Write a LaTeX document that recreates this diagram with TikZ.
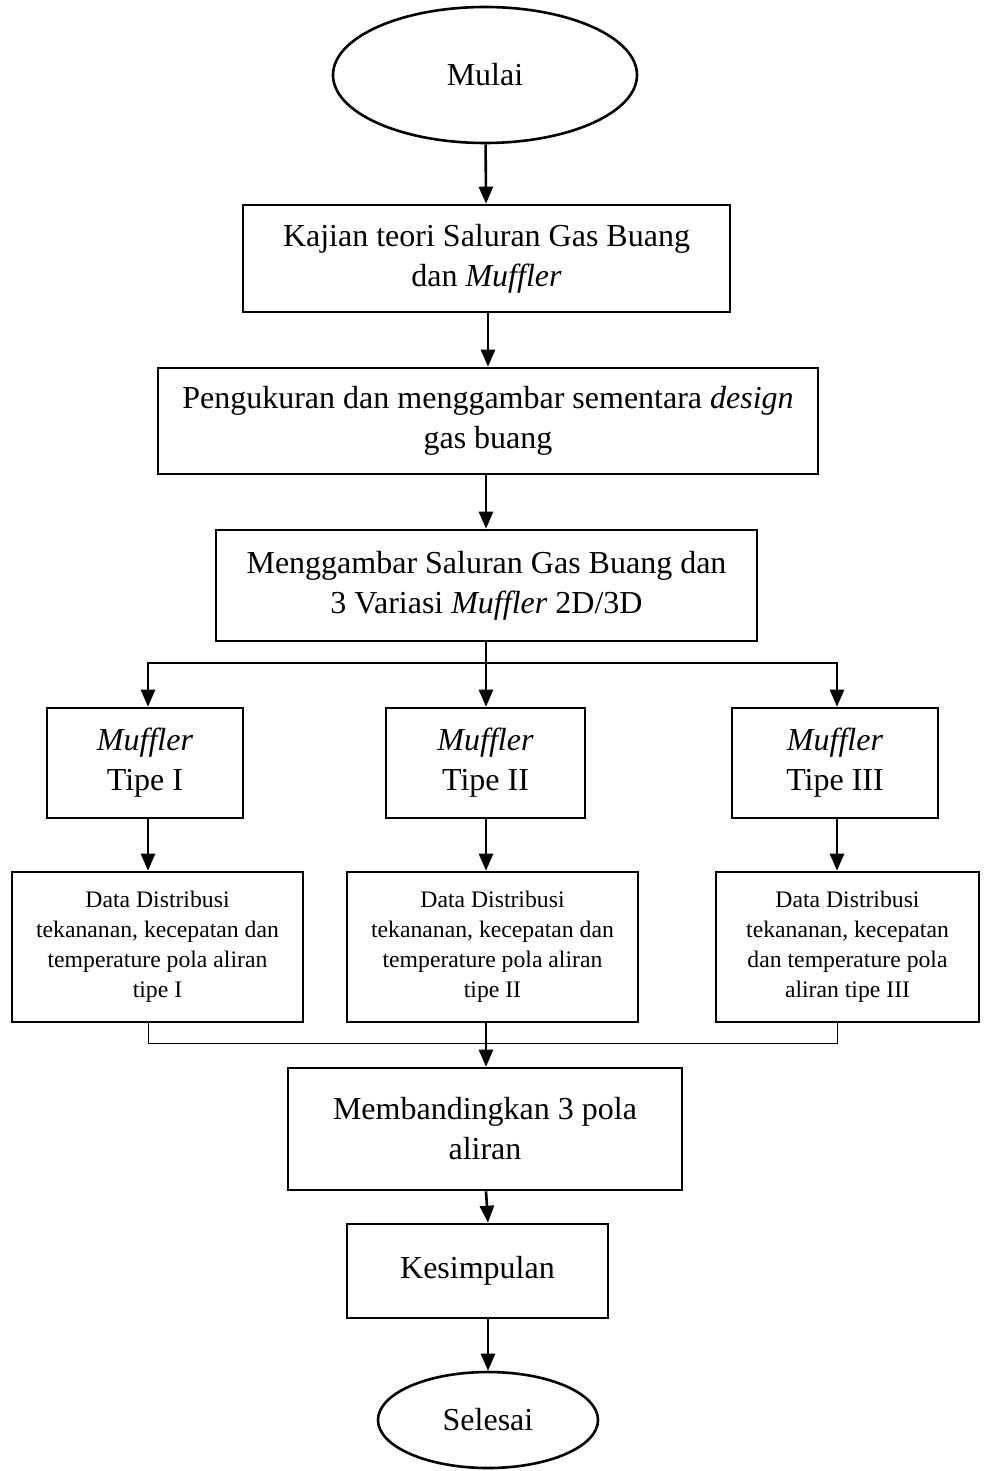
\documentclass[tikz,border=0pt]{standalone}
\usepackage{fontspec}
\setmainfont{Liberation Serif}
\usetikzlibrary{shapes.geometric,arrows.meta}
\begin{document}
\begin{tikzpicture}[x=1pt,y=-1pt,
  big/.style={font=\fontsize{32}{40}\selectfont},
  small/.style={font=\fontsize{23.7}{30}\selectfont},
  box/.style={draw,line width=2.6pt,inner sep=0pt,align=center},
  oval/.style={draw,ellipse,line width=2.6pt,inner sep=0pt,align=center},
  arr/.style={line width=2.6pt,-{Triangle[length=17pt,width=14pt]}},
  thinln/.style={line width=1pt}]
\useasboundingbox (0,0) rectangle (992,1471);
\node[oval,big,minimum width=304pt,minimum height=136pt] (start) at (485,75) {Mulai};
\node[box,big,minimum width=487pt,minimum height=107pt] (b1) at (486.5,258.5) {Kajian teori Saluran Gas Buang\\dan \textit{Muffler}};
\node[box,big,minimum width=660pt,minimum height=106pt] (b2) at (488,421) {Pengukuran dan menggambar sementara \textit{design}\\gas buang};
\node[box,big,minimum width=541pt,minimum height=111pt] (b3) at (486.5,585.5) {Menggambar Saluran Gas Buang dan\\3 Variasi \textit{Muffler} 2D/3D};
\node[box,big,minimum width=196pt,minimum height=110pt] (m1) at (145,763) {\textit{Muffler}\\Tipe I};
\node[box,big,minimum width=199pt,minimum height=110pt] (m2) at (485.5,763) {\textit{Muffler}\\Tipe II};
\node[box,big,minimum width=206pt,minimum height=110pt] (m3) at (835,763) {\textit{Muffler}\\Tipe III};
\node[box,small,minimum width=291pt,minimum height=150pt] (d1) at (157.5,947) {Data Distribusi\\tekananan, kecepatan dan\\temperature pola aliran\\tipe I};
\node[box,small,minimum width=291pt,minimum height=150pt] (d2) at (492.5,947) {Data Distribusi\\tekananan, kecepatan dan\\temperature pola aliran\\tipe II};
\node[box,small,minimum width=263pt,minimum height=150pt] (d3) at (847.5,947) {Data Distribusi\\tekananan, kecepatan\\dan temperature pola\\aliran tipe III};
\node[box,big,minimum width=394pt,minimum height=122pt] (cmp) at (485,1129) {Membandingkan 3 pola\\aliran};
\node[box,big,minimum width=261pt,minimum height=94pt] (kes) at (477.5,1271) {Kesimpulan};
\node[oval,big,minimum width=220pt,minimum height=96pt] (end) at (488,1420) {Selesai};
\coordinate (fork) at (486,663);
\coordinate (join) at (486,1043);
\coordinate (lx) at (148,0);
\coordinate (rx) at (837,0);
% connectors
\draw[arr] (start) -- (b1);
\draw[arr] (b1.south -| b2.north) -- (b2.north);
\draw[arr] (b2.south -| fork) -- (fork |- b3.north);
\draw[arr] (fork |- b3.south) -- (fork |- m2.north);
\draw[arr] (fork) -- (lx |- fork) -- (lx |- m1.north);
\draw[arr] (fork) -- (rx |- fork) -- (rx |- m3.north);
\draw[arr] (lx |- m1.south) -- (lx |- d1.north);
\draw[arr] (fork |- m2.south) -- (fork |- d2.north);
\draw[arr] (rx |- m3.south) -- (rx |- d3.north);
\draw[thinln] (lx |- d1.south) -- (lx |- join) -- (rx |- join) -- (rx |- d3.south);
\draw[arr] (fork |- d2.south) -- (fork |- cmp.north);
\draw[arr] (fork |- cmp.south) -- (end.north |- kes.north);
\draw[arr] (end.north |- kes.south) -- (end.north);
\end{tikzpicture}
\end{document}
